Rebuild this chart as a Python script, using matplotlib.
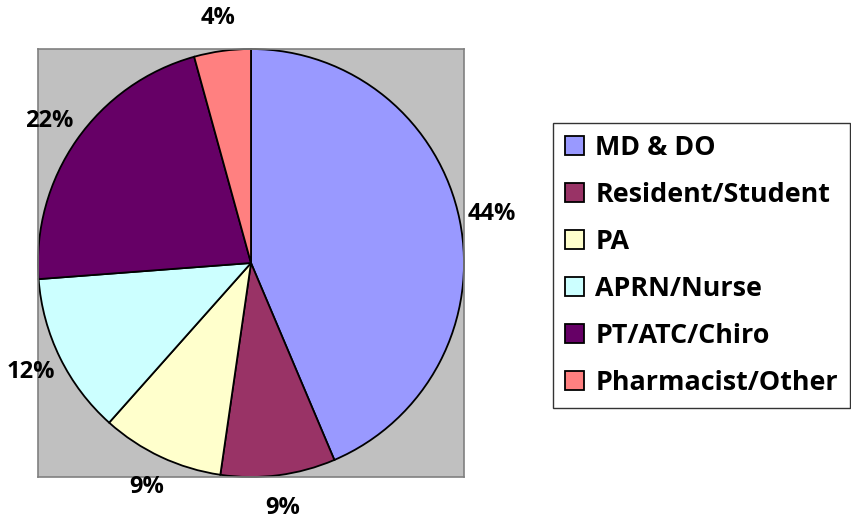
import matplotlib.pyplot as plt

plt.rcParams["font.family"] = ["Open Sans", "DejaVu Sans"]
plt.rcParams["font.weight"] = "bold"

categorias = ["MD & DO", "Resident/Student", "PA", "APRN/Nurse", "PT/ATC/Chiro", "Pharmacist/Other"]
valores = [43.6, 8.7, 9.3, 12.2, 21.9, 4.3]
cores = ["#9999FF", "#993366", "#FFFFCC", "#CCFFFF", "#660066", "#FF8080"]

fig = plt.figure(figsize=(8.51, 5.18), dpi=100)
ax = fig.add_axes([38 / 851, 41 / 518, 426 / 851, 428 / 518])

fatias, _, textos = ax.pie(
    valores,
    colors=cores,
    startangle=90,
    counterclock=False,
    autopct="%1.0f%%",
    pctdistance=1.155,
    radius=1,
    wedgeprops={"edgecolor": "black", "linewidth": 1.3},
    textprops={"fontsize": 17, "fontweight": "bold", "color": "black"},
)
ax.set_frame_on(True)
ax.set_facecolor("#C0C0C0")
ax.set_xlim(-1, 1)
ax.set_ylim(-1, 1)
ax.set_aspect("auto")
ax.set_xticks([])
ax.set_yticks([])
for lado in ax.spines.values():
    lado.set_visible(True)
    lado.set_color("#808080")
    lado.set_linewidth(1.2)

leg = fig.legend(
    fatias, categorias,
    loc="upper left",
    bbox_to_anchor=(553 / 851, 1 - 123 / 518),
    fontsize=19.4,
    frameon=True,
    fancybox=False,
    edgecolor="black",
    borderpad=0.45,
    labelspacing=0.78,
    handlelength=0.7,
    handleheight=0.7,
    handletextpad=0.42,
    borderaxespad=0,
)
leg.get_frame().set_linewidth(1.0)
for t in leg.get_texts():
    t.set_fontweight("bold")

fig.savefig("out.png", dpi=100)
